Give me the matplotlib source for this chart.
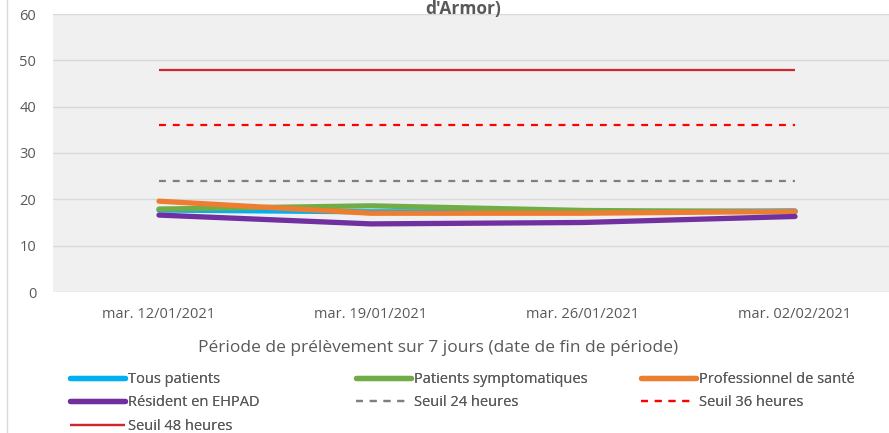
import matplotlib.pyplot as plt
from matplotlib.lines import Line2D
import numpy as np

# data
dates = ['mar. 12/01/2021', 'mar. 19/01/2021', 'mar. 26/01/2021', 'mar. 02/02/2021']
tous_patients = [17.7, 17.3, 17.3, 17.5]
patients_sympto = [17.9, 18.6, 17.6, 17.3]
professionnel = [19.6, 17.0, 17.0, 17.4]
resident_ehpad = [16.6, 14.7, 15.0, 16.3]
seuil_24 = [24, 24, 24, 24]
seuil_36 = [36, 36, 36, 36]
seuil_48 = [48, 48, 48, 48]

plt.rcParams['font.family'] = ['Open Sans', 'DejaVu Sans']

fig = plt.figure(figsize=(8.89, 4.33), dpi=100)
ax = fig.add_axes([53 / 889, 141 / 433, 836 / 889, 278 / 433])
ax.set_facecolor('#f0f0f0')

x = np.arange(len(dates))
l48, = ax.plot(x, seuil_48, color='#d0262d', lw=1.6, solid_capstyle='butt')
l36, = ax.plot(x, seuil_36, color='#ff0000', lw=1.6, dashes=(3.1, 3.1))
l24, = ax.plot(x, seuil_24, color='#7f7f7f', lw=1.6, dashes=(3.1, 3.1))
l_tous, = ax.plot(x, tous_patients, color='#00b0f0', lw=3.8, solid_capstyle='round')
l_sym, = ax.plot(x, patients_sympto, color='#70ad47', lw=3.8, solid_capstyle='round')
l_pro, = ax.plot(x, professionnel, color='#ed7d31', lw=3.8, solid_capstyle='round')
l_ehp, = ax.plot(x, resident_ehpad, color='#7030a0', lw=3.8, solid_capstyle='round')

ax.set_xlim(-0.5, (889 - 159) / 212)
ax.set_ylim(0, 60)
ax.set_yticks(range(0, 61, 10))
ax.set_xticks(x)
ax.set_xticklabels(dates)
ax.tick_params(axis='both', length=0, colors='#595959', labelsize=10.5)
ax.tick_params(axis='y', pad=12)
ax.tick_params(axis='x', pad=11)
ax.grid(axis='y', color='#d9d9d9', lw=1)
ax.set_axisbelow(True)
for s in ax.spines.values():
    s.set_visible(False)

# axis title, centred on the chart rather than the plot area
fig.text(438 / 889, 1 - 348 / 433,
         'Période de prélèvement sur 7 jours (date de fin de période)',
         ha='center', va='center', fontsize=12.5, color='#595959')

# title, mostly cut off at the top
fig.text(463 / 889, 1.0, "d'Armor)", ha='center', va='top',
         fontsize=12.5, fontweight='bold', color='#595959')

# left border of the chart frame
fig.add_artist(Line2D([7 / 889, 7 / 889], [0, 1], color='#d9d9d9', lw=1))

# legend, three columns placed like Excel's
cols = [
    ([l_tous, l_ehp, l48], ['Tous patients', 'Résident en EHPAD', 'Seuil 48 heures'], 70),
    ([l_sym, l24], ['Patients symptomatiques', 'Seuil 24 heures'], 356),
    ([l_pro, l36], ['Professionnel de santé', 'Seuil 36 heures'], 641),
]
for handles, labels, xpx in cols:
    leg = fig.legend(handles, labels, loc='upper left',
                     bbox_to_anchor=(xpx / 889, 1 - 372 / 433),
                     frameon=False, fontsize=10.5, labelcolor='#595959',
                     handlelength=3.8, handletextpad=0.2, labelspacing=0.58,
                     borderpad=0, borderaxespad=0)
    fig.add_artist(leg)

fig.savefig('out.png', dpi=100)
